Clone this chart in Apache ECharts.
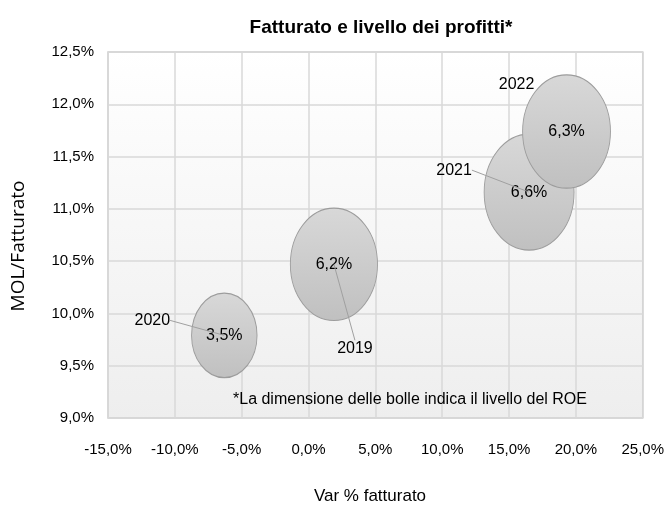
<!DOCTYPE html>
<html>
<head>
<meta charset="utf-8">
<script src="https://cdn.jsdelivr.net/npm/echarts@6/dist/echarts.min.js"></script>
<style>html,body{margin:0;padding:0;background:#fff}#c{width:667px;height:508px}</style>
</head>
<body>
<div id="c"></div>
<script>
// ---- data ----
var years = ['2019', '2020', '2021', '2022'];
var varFatturato = [1.9, -6.3, 16.5, 19.3];     // x, %
var molFatturato = [10.47, 9.79, 11.16, 11.74]; // y, %
var roe = [6.2, 3.5, 6.6, 6.3];                 // bubble size, %
var xTicks = [-15, -10, -5, 0, 5, 10, 15, 20, 25];
var yTicks = [9.0, 9.5, 10.0, 10.5, 11.0, 11.5, 12.0, 12.5];

// ---- label offsets (style) ----
var yearLabelOffsets = [[21, 84], [-72, -15], [-75, -22], [-50, -47]];
var yearLabelLines = [true, true, true, false];

var FONT = '"Liberation Sans", Arial, sans-serif';
function fmt(v, d) { return v.toFixed(d).replace('.', ',') + '%'; }

var pts = years.map(function (y, i) { return [varFatturato[i], molFatturato[i], roe[i], y]; });
var ellipse = 'path://M0,50 A50,50 0 1,1 100,50 A50,50 0 1,1 0,50 Z';

var chart = echarts.init(document.getElementById('c'), null, { renderer: 'canvas' });
chart.setOption({
  animation: false,
  backgroundColor: '#fff',
  title: {
    text: 'Fatturato e livello dei profitti*',
    left: 376, top: 13, textAlign: 'center',
    textStyle: { fontFamily: FONT, fontWeight: 'bold', fontSize: 19, color: '#000' }
  },
  grid: {
    left: 108, right: 24, top: 52, bottom: 90,
    show: true, borderColor: '#cccccc', borderWidth: 1.5,
    backgroundColor: new echarts.graphic.LinearGradient(0, 0, 0, 1, [
      { offset: 0, color: '#ffffff' }, { offset: 1, color: '#eeeeee' }
    ])
  },
  xAxis: {
    type: 'value', min: xTicks[0], max: xTicks[xTicks.length - 1], interval: 5,
    axisLine: { show: false }, axisTick: { show: false },
    axisLabel: { fontFamily: FONT, fontSize: 15, color: '#000', margin: 24,
      formatter: function (v) { return fmt(v, 1); } },
    splitLine: { lineStyle: { color: '#d9d9d9', width: 1.5 } }
  },
  yAxis: {
    type: 'value', min: yTicks[0], max: yTicks[yTicks.length - 1], interval: 0.5,
    axisLine: { show: false }, axisTick: { show: false },
    axisLabel: { fontFamily: FONT, fontSize: 15, color: '#000', margin: 14,
      formatter: function (v) { return fmt(v, 1); } },
    splitLine: { lineStyle: { color: '#d9d9d9', width: 1.5 } }
  },
  graphic: [{
    type: 'text', x: 233, y: 392, z: 10,
    style: { text: '*La dimensione delle bolle indica il livello del ROE', fontFamily: FONT, fontSize: 16, fill: '#000' }
  }, {
    type: 'text', x: 370, y: 496, z: 10,
    style: { text: 'Var % fatturato', fontFamily: FONT, fontSize: 17, fill: '#000', align: 'center', verticalAlign: 'middle' }
  }, {
    type: 'text', x: 19, y: 246, rotation: Math.PI / 2, z: 10,
    style: { text: 'MOL/Fatturato', fontFamily: '"Open Sans", sans-serif', fontSize: 19, fill: '#000', align: 'center', verticalAlign: 'middle' }
  }],
  series: [{
    type: 'scatter',
    data: pts,
    symbol: ellipse,
    symbolSize: function (v) { var w = 35 * Math.sqrt(v[2]); return [w, w * 1.29]; },
    itemStyle: {
      color: new echarts.graphic.LinearGradient(0, 0, 0, 1, [
        { offset: 0, color: '#d8d8d8' }, { offset: 1, color: '#c0c0c0' }
      ]),
      borderColor: '#9c9c9c', borderWidth: 1, opacity: 1
    },
    label: {
      show: true, position: 'inside', fontFamily: FONT, fontSize: 16, color: '#000',
      formatter: function (p) { return fmt(p.value[2], 1); }
    },
    emphasis: { disabled: true },
    z: 2
  }, {
    type: 'scatter',
    data: pts.map(function (p, i) {
      return { value: p, labelLine: { show: yearLabelLines[i] } };
    }),
    symbol: 'circle', symbolSize: 1,
    itemStyle: { color: 'rgba(0,0,0,0)', opacity: 1 },
    label: {
      show: true, position: 'inside', fontFamily: FONT, fontSize: 16, color: '#000',
      formatter: function (p) { return p.value[3]; }
    },
    labelLayout: function (params) {
      var o = yearLabelOffsets[params.dataIndex];
      return { dx: o[0], dy: o[1] };
    },
    labelLine: { show: true, lineStyle: { color: '#a0a0a0', width: 1, opacity: 1 } },
    emphasis: { disabled: true },
    z: 3
  }]
});
</script>
</body>
</html>
